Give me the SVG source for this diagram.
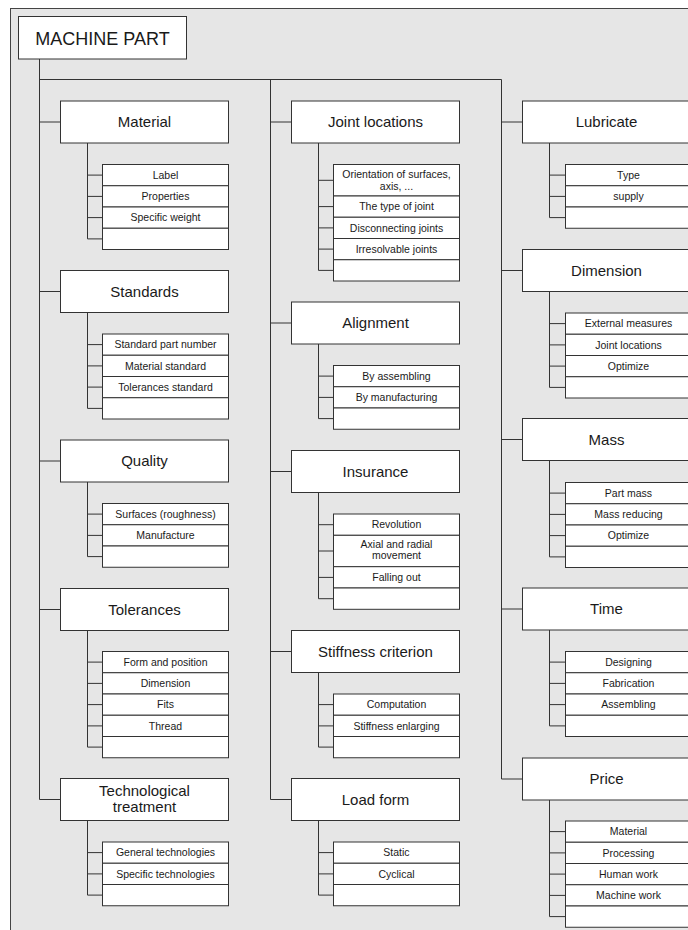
<svg xmlns="http://www.w3.org/2000/svg" width="688" height="930" viewBox="0 0 688 930">
<style>
.bg{fill:#e6e6e6;stroke:#444;stroke-width:1}
.box{fill:#fff;stroke:#333;stroke-width:1}
.ln{fill:none;stroke:#333;stroke-width:1}
.t{font-family:"Liberation Sans",Arial,sans-serif;fill:#1a1a1a;text-anchor:middle}
.root{font-size:18px}
.cat{font-size:15px}
.sub{font-size:10.5px}
</style>
<rect class="bg" x="10.5" y="8.5" width="700" height="940"/>

<g id="connectors">
<path class="ln" d="M39.5 59V799.5M39.5 79.5H501.5M270.5 79.5V799.5M501.5 79.5V779"/>
<path class="ln" d="M39.5 122H60.5M39.5 291.5H60.5M39.5 461H60.5M39.5 609.5H60.5M39.5 799.5H60.5"/>
<path class="ln" d="M270.5 122H291.5M270.5 323H291.5M270.5 471.5H291.5M270.5 651.5H291.5M270.5 799.5H291.5"/>
<path class="ln" d="M501.5 122H522.5M501.5 270.5H522.5M501.5 439.5H522.5M501.5 609H522.5M501.5 779H522.5"/>
<path class="ln" d="M87.5 143V238.9M87.5 175.1H102.5M87.5 196.4H102.5M87.5 217.6H102.5M87.5 238.9H102.5"/>
<path class="ln" d="M87.5 312.5V408.4M87.5 344.6H102.5M87.5 365.9H102.5M87.5 387.1H102.5M87.5 408.4H102.5"/>
<path class="ln" d="M87.5 482V556.6M87.5 514.1H102.5M87.5 535.4H102.5M87.5 556.6H102.5"/>
<path class="ln" d="M87.5 630.5V747.1M87.5 662.1H102.5M87.5 683.4H102.5M87.5 704.6H102.5M87.5 725.9H102.5M87.5 747.1H102.5"/>
<path class="ln" d="M87.5 820.5V895.1M87.5 852.6H102.5M87.5 873.9H102.5M87.5 895.1H102.5"/>
<path class="ln" d="M318.5 143V270.4M318.5 180.3H333.5M318.5 206.6H333.5M318.5 227.9H333.5M318.5 249.1H333.5M318.5 270.4H333.5"/>
<path class="ln" d="M318.5 344V418.6M318.5 376.1H333.5M318.5 397.4H333.5M318.5 418.6H333.5"/>
<path class="ln" d="M318.5 492.5V598.7M318.5 524.7H333.5M318.5 551H333.5M318.5 577.4H333.5M318.5 598.7H333.5"/>
<path class="ln" d="M318.5 672.5V747.1M318.5 704.6H333.5M318.5 725.9H333.5M318.5 747.1H333.5"/>
<path class="ln" d="M318.5 820.5V895.1M318.5 852.6H333.5M318.5 873.9H333.5M318.5 895.1H333.5"/>
<path class="ln" d="M549.5 143V217.6M549.5 175.1H565.5M549.5 196.4H565.5M549.5 217.6H565.5"/>
<path class="ln" d="M549.5 291.5V387.4M549.5 323.6H565.5M549.5 344.9H565.5M549.5 366.1H565.5M549.5 387.4H565.5"/>
<path class="ln" d="M549.5 460.5V556.9M549.5 493.1H565.5M549.5 514.4H565.5M549.5 535.6H565.5M549.5 556.9H565.5"/>
<path class="ln" d="M549.5 630V725.9M549.5 662.1H565.5M549.5 683.4H565.5M549.5 704.6H565.5M549.5 725.9H565.5"/>
<path class="ln" d="M549.5 800V916.6M549.5 831.6H565.5M549.5 852.9H565.5M549.5 874.1H565.5M549.5 895.4H565.5M549.5 916.6H565.5"/>
</g>

<g id="root">
<rect class="box" x="18.5" y="16.5" width="168" height="42.5"/>
<text class="t root" x="102.5" y="44.5">MACHINE PART</text>
</g>

<g id="material">
<rect class="box" x="60.5" y="101" width="168" height="42"/>
<text class="t cat" x="144.5" y="127.3">Material</text>
<rect class="box" x="102.5" y="164.5" width="126" height="21.25"/>
<rect class="box" x="102.5" y="185.75" width="126" height="21.25"/>
<rect class="box" x="102.5" y="207" width="126" height="21.25"/>
<rect class="box" x="102.5" y="228.25" width="126" height="21.25"/>
<text class="t sub" x="165.5" y="178.8">Label</text>
<text class="t sub" x="165.5" y="200.1">Properties</text>
<text class="t sub" x="165.5" y="221.3">Specific weight</text>
</g>
<g id="standards">
<rect class="box" x="60.5" y="270.5" width="168" height="42"/>
<text class="t cat" x="144.5" y="296.8">Standards</text>
<rect class="box" x="102.5" y="334" width="126" height="21.25"/>
<rect class="box" x="102.5" y="355.25" width="126" height="21.25"/>
<rect class="box" x="102.5" y="376.5" width="126" height="21.25"/>
<rect class="box" x="102.5" y="397.75" width="126" height="21.25"/>
<text class="t sub" x="165.5" y="348.3">Standard part number</text>
<text class="t sub" x="165.5" y="369.6">Material standard</text>
<text class="t sub" x="165.5" y="390.8">Tolerances standard</text>
</g>
<g id="quality">
<rect class="box" x="60.5" y="440" width="168" height="42"/>
<text class="t cat" x="144.5" y="466.3">Quality</text>
<rect class="box" x="102.5" y="503.5" width="126" height="21.25"/>
<rect class="box" x="102.5" y="524.75" width="126" height="21.25"/>
<rect class="box" x="102.5" y="546" width="126" height="21.25"/>
<text class="t sub" x="165.5" y="517.8">Surfaces (roughness)</text>
<text class="t sub" x="165.5" y="539.1">Manufacture</text>
</g>
<g id="tolerances">
<rect class="box" x="60.5" y="588.5" width="168" height="42"/>
<text class="t cat" x="144.5" y="614.8">Tolerances</text>
<rect class="box" x="102.5" y="651.5" width="126" height="21.25"/>
<rect class="box" x="102.5" y="672.75" width="126" height="21.25"/>
<rect class="box" x="102.5" y="694" width="126" height="21.25"/>
<rect class="box" x="102.5" y="715.25" width="126" height="21.25"/>
<rect class="box" x="102.5" y="736.5" width="126" height="21.25"/>
<text class="t sub" x="165.5" y="665.8">Form and position</text>
<text class="t sub" x="165.5" y="687.1">Dimension</text>
<text class="t sub" x="165.5" y="708.3">Fits</text>
<text class="t sub" x="165.5" y="729.6">Thread</text>
</g>
<g id="technological">
<rect class="box" x="60.5" y="778.5" width="168" height="42"/>
<text class="t cat" x="144.5" y="796">Technological</text>
<text class="t cat" x="144.5" y="811.5">treatment</text>
<rect class="box" x="102.5" y="842" width="126" height="21.25"/>
<rect class="box" x="102.5" y="863.25" width="126" height="21.25"/>
<rect class="box" x="102.5" y="884.5" width="126" height="21.25"/>
<text class="t sub" x="165.5" y="856.3">General technologies</text>
<text class="t sub" x="165.5" y="877.6">Specific technologies</text>
</g>

<g id="joint-locations">
<rect class="box" x="291.5" y="101" width="168" height="42"/>
<text class="t cat" x="375.5" y="127.3">Joint locations</text>
<rect class="box" x="333.5" y="164.5" width="126" height="31.5"/>
<rect class="box" x="333.5" y="196" width="126" height="21.25"/>
<rect class="box" x="333.5" y="217.25" width="126" height="21.25"/>
<rect class="box" x="333.5" y="238.5" width="126" height="21.25"/>
<rect class="box" x="333.5" y="259.75" width="126" height="21.25"/>
<text class="t sub" x="396.5" y="178.3">Orientation of surfaces,</text>
<text class="t sub" x="396.5" y="190">axis, ...</text>
<text class="t sub" x="396.5" y="210.3">The type of joint</text>
<text class="t sub" x="396.5" y="231.6">Disconnecting joints</text>
<text class="t sub" x="396.5" y="252.8">Irresolvable joints</text>
</g>
<g id="alignment">
<rect class="box" x="291.5" y="302" width="168" height="42"/>
<text class="t cat" x="375.5" y="328.3">Alignment</text>
<rect class="box" x="333.5" y="365.5" width="126" height="21.25"/>
<rect class="box" x="333.5" y="386.75" width="126" height="21.25"/>
<rect class="box" x="333.5" y="408" width="126" height="21.25"/>
<text class="t sub" x="396.5" y="379.8">By assembling</text>
<text class="t sub" x="396.5" y="401.1">By manufacturing</text>
</g>
<g id="insurance">
<rect class="box" x="291.5" y="450.5" width="168" height="42"/>
<text class="t cat" x="375.5" y="476.8">Insurance</text>
<rect class="box" x="333.5" y="514" width="126" height="21.3"/>
<rect class="box" x="333.5" y="535.3" width="126" height="31.4"/>
<rect class="box" x="333.5" y="566.7" width="126" height="21.3"/>
<rect class="box" x="333.5" y="588" width="126" height="21.3"/>
<text class="t sub" x="396.5" y="528.3">Revolution</text>
<text class="t sub" x="396.5" y="548.3">Axial and radial</text>
<text class="t sub" x="396.5" y="559.3">movement</text>
<text class="t sub" x="396.5" y="581">Falling out</text>
</g>
<g id="stiffness-criterion">
<rect class="box" x="291.5" y="630.5" width="168" height="42"/>
<text class="t cat" x="375.5" y="656.8">Stiffness criterion</text>
<rect class="box" x="333.5" y="694" width="126" height="21.25"/>
<rect class="box" x="333.5" y="715.25" width="126" height="21.25"/>
<rect class="box" x="333.5" y="736.5" width="126" height="21.25"/>
<text class="t sub" x="396.5" y="708.3">Computation</text>
<text class="t sub" x="396.5" y="729.6">Stiffness enlarging</text>
</g>
<g id="load-form">
<rect class="box" x="291.5" y="778.5" width="168" height="42"/>
<text class="t cat" x="375.5" y="804.8">Load form</text>
<rect class="box" x="333.5" y="842" width="126" height="21.25"/>
<rect class="box" x="333.5" y="863.25" width="126" height="21.25"/>
<rect class="box" x="333.5" y="884.5" width="126" height="21.25"/>
<text class="t sub" x="396.5" y="856.3">Static</text>
<text class="t sub" x="396.5" y="877.6">Cyclical</text>
</g>

<g id="lubricate">
<rect class="box" x="522.5" y="101" width="168" height="42"/>
<text class="t cat" x="606.5" y="127.3">Lubricate</text>
<rect class="box" x="565.5" y="164.5" width="126" height="21.25"/>
<rect class="box" x="565.5" y="185.75" width="126" height="21.25"/>
<rect class="box" x="565.5" y="207" width="126" height="21.25"/>
<text class="t sub" x="628.5" y="178.8">Type</text>
<text class="t sub" x="628.5" y="200.1">supply</text>
</g>
<g id="dimension">
<rect class="box" x="522.5" y="249.5" width="168" height="42"/>
<text class="t cat" x="606.5" y="275.8">Dimension</text>
<rect class="box" x="565.5" y="313" width="126" height="21.25"/>
<rect class="box" x="565.5" y="334.25" width="126" height="21.25"/>
<rect class="box" x="565.5" y="355.5" width="126" height="21.25"/>
<rect class="box" x="565.5" y="376.75" width="126" height="21.25"/>
<text class="t sub" x="628.5" y="327.3">External measures</text>
<text class="t sub" x="628.5" y="348.6">Joint locations</text>
<text class="t sub" x="628.5" y="369.8">Optimize</text>
</g>
<g id="mass">
<rect class="box" x="522.5" y="418.5" width="168" height="42"/>
<text class="t cat" x="606.5" y="444.8">Mass</text>
<rect class="box" x="565.5" y="482.5" width="126" height="21.25"/>
<rect class="box" x="565.5" y="503.75" width="126" height="21.25"/>
<rect class="box" x="565.5" y="525" width="126" height="21.25"/>
<rect class="box" x="565.5" y="546.25" width="126" height="21.25"/>
<text class="t sub" x="628.5" y="496.8">Part mass</text>
<text class="t sub" x="628.5" y="518.1">Mass reducing</text>
<text class="t sub" x="628.5" y="539.3">Optimize</text>
</g>
<g id="time">
<rect class="box" x="522.5" y="588" width="168" height="42"/>
<text class="t cat" x="606.5" y="614.3">Time</text>
<rect class="box" x="565.5" y="651.5" width="126" height="21.25"/>
<rect class="box" x="565.5" y="672.75" width="126" height="21.25"/>
<rect class="box" x="565.5" y="694" width="126" height="21.25"/>
<rect class="box" x="565.5" y="715.25" width="126" height="21.25"/>
<text class="t sub" x="628.5" y="665.8">Designing</text>
<text class="t sub" x="628.5" y="687.1">Fabrication</text>
<text class="t sub" x="628.5" y="708.3">Assembling</text>
</g>
<g id="price">
<rect class="box" x="522.5" y="758" width="168" height="42"/>
<text class="t cat" x="606.5" y="784.3">Price</text>
<rect class="box" x="565.5" y="821" width="126" height="21.25"/>
<rect class="box" x="565.5" y="842.25" width="126" height="21.25"/>
<rect class="box" x="565.5" y="863.5" width="126" height="21.25"/>
<rect class="box" x="565.5" y="884.75" width="126" height="21.25"/>
<rect class="box" x="565.5" y="906" width="126" height="21.25"/>
<text class="t sub" x="628.5" y="835.3">Material</text>
<text class="t sub" x="628.5" y="856.6">Processing</text>
<text class="t sub" x="628.5" y="877.8">Human work</text>
<text class="t sub" x="628.5" y="899.1">Machine work</text>
</g>
</svg>
